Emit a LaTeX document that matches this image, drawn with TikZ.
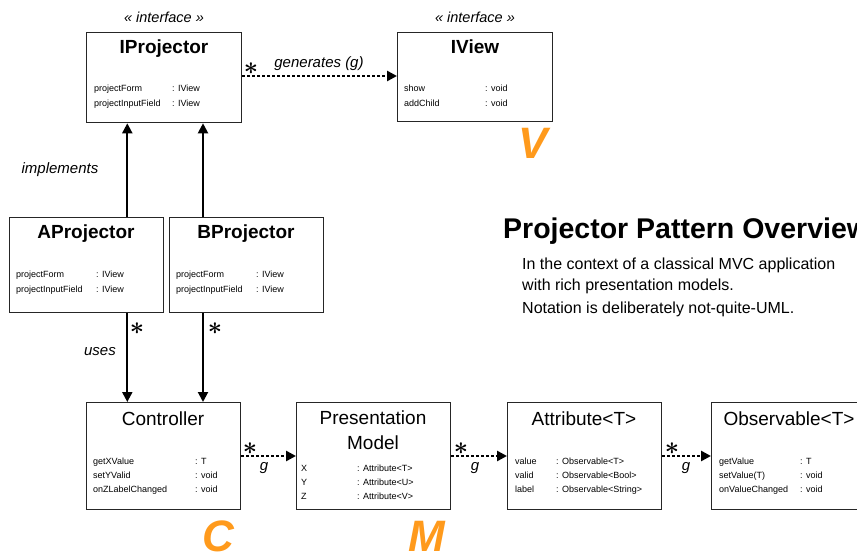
\documentclass[tikz,border=0pt]{standalone}
\usepackage{fontspec}
\setmainfont{Liberation Sans}
\usetikzlibrary{arrows.meta}
\definecolor{mvcorange}{HTML}{FF9A1C}
\begin{document}
\begin{tikzpicture}[x=1pt,y=-1pt,
  cls/.style={draw=black!85,line width=1.3pt,anchor=north west,inner sep=0pt,minimum width=155pt},
  clsname/.style={font=\fontsize{19}{22}\selectfont,anchor=base,inner sep=0pt},
  stereo/.style={font=\fontsize{14.5}{17}\selectfont\itshape,inner sep=0pt},
  fields/.style={font=\fontsize{9}{14.3}\selectfont,anchor=base west,inner sep=0pt},
  rel/.style={line width=2pt,-{Triangle[length=10pt,width=10pt]}},
  gen/.style={rel,line width=2.5pt,dash pattern=on 2.5pt off 2.5pt},
  mult/.style={font=\fontsize{36}{36}\selectfont\boldmath,inner sep=0pt},
  lbl/.style={font=\fontsize{15}{18}\selectfont\itshape,inner sep=0pt},
  note/.style={font=\fontsize{16}{20}\selectfont,anchor=base west,inner sep=0pt},
  mvc/.style={font=\fontsize{44}{44}\selectfont\bfseries\itshape,text=mvcorange,inner sep=0pt}]
\useasboundingbox (0,0) rectangle (857,553);
\clip (0,0) rectangle (857,553);
% boxes
\node[cls,minimum height=90pt] (iproj) at (86,32) {};
\node[cls,minimum height=89pt] (iview) at (397,32) {};
\node[cls,minimum height=95pt,minimum width=154pt] (aproj) at (9,217) {};
\node[cls,minimum height=95pt,minimum width=154pt] (bproj) at (169,217) {};
\node[cls,minimum height=107pt,minimum width=154pt] (ctrl) at (86,402) {};
\node[cls,minimum height=107pt,minimum width=154pt] (pm) at (296,402) {};
\node[cls,minimum height=107pt,minimum width=154pt] (attr) at (507,402) {};
\node[cls,minimum height=107pt,minimum width=156pt] (obs) at (711,402) {};
% stereotypes
\node[stereo] (iprojStereo) at (164,17) {« interface »};
\node[stereo] (iviewStereo) at (475,17) {« interface »};
% class names
\node[clsname,font=\fontsize{19}{22}\selectfont\bfseries] (iprojName) at (164,54) {IProjector};
\node[clsname,font=\fontsize{19}{22}\selectfont\bfseries] (iviewName) at (475,54) {IView};
\node[clsname,font=\fontsize{19}{22}\selectfont\bfseries] (aprojName) at (86,239) {AProjector};
\node[clsname,font=\fontsize{19}{22}\selectfont\bfseries] (bprojName) at (246,239) {BProjector};
\node[clsname] (ctrlName) at (163,425) {Controller};
\node[clsname] (pmName) at (373,424) {Presentation};
\node[clsname] (pmName2) at (373,449) {Model};
\node[clsname] (attrName) at (584,425) {Attribute<T>};
\node[clsname] (obsName) at (789,425) {Observable<T>};
% fields
\node[fields] (iprojFields) at (94,92) {\begin{tabular}[t]{@{}p{78pt}@{}l@{}}
  projectForm & : IView\\ projectInputField & : IView\end{tabular}};
\node[fields] (iviewFields) at (404,92) {\begin{tabular}[t]{@{}p{81pt}@{}l@{}}
  show & : void\\ addChild & : void\end{tabular}};
\node[fields] (aprojFields) at (16,278) {\begin{tabular}[t]{@{}p{80pt}@{}l@{}}
  projectForm & : IView\\ projectInputField & : IView\end{tabular}};
\node[fields] (bprojFields) at (176,278) {\begin{tabular}[t]{@{}p{80pt}@{}l@{}}
  projectForm & : IView\\ projectInputField & : IView\end{tabular}};
\node[fields] (ctrlFields) at (93,464) {\begin{tabular}[t]{@{}p{102pt}@{}l@{}}
  getXValue & : T\\ setYValid & : void\\ onZLabelChanged & : void\end{tabular}};
\node[fields] (pmFields) at (301,471) {\begin{tabular}[t]{@{}p{56pt}@{}l@{}}
  X & : Attribute<T>\\ Y & : Attribute<U>\\ Z & : Attribute<V>\end{tabular}};
\node[fields] (attrFields) at (515,464) {\begin{tabular}[t]{@{}p{41pt}@{}l@{}}
  value & : Observable<T>\\ valid & : Observable<Bool>\\ label & : Observable<String>\end{tabular}};
\node[fields] (obsFields) at (719,464) {\begin{tabular}[t]{@{}p{81pt}@{}l@{}}
  getValue & : T\\ setValue(T) & : void\\ onValueChanged & : void\end{tabular}};
% implements
\draw[rel] ([xshift=-37]aproj.north east) -- ([xshift=-37]aproj.north east |- iproj.south);
\draw[rel] ([xshift=34]bproj.north west) -- ([xshift=34]bproj.north west |- iproj.south);
\node[lbl] (implLbl) at (60,170) {implements};
% uses
\draw[rel] ([xshift=-37]aproj.south east) -- ([xshift=-37]aproj.south east |- ctrl.north);
\draw[rel] ([xshift=34]bproj.south west) -- ([xshift=34]bproj.south west |- ctrl.north);
\node[mult] (usesStarA) at (137,329) {$\ast$};
\node[mult] (usesStarB) at (215,329) {$\ast$};
\node[lbl] (usesLbl) at (100,352) {uses};
% generates
\draw[gen] (iproj.east |- 0,76) -- (iview.west |- 0,76);
\node[mult] (genStar) at (251,69) {$\ast$};
\node[lbl] (genLbl) at (319,64) {generates (g)};
\draw[gen] (ctrl.east |- 0,456) -- (pm.west |- 0,456);
\node[mult] (ctrlStar) at (250,449) {$\ast$};
\node[lbl] (ctrlG) at (264,468) {g};
\draw[gen] (pm.east |- 0,456) -- (attr.west |- 0,456);
\node[mult] (pmStar) at (461,449) {$\ast$};
\node[lbl] (pmG) at (475,468) {g};
\draw[gen] (attr.east |- 0,456) -- (obs.west |- 0,456);
\node[mult] (attrStar) at (672,449) {$\ast$};
\node[lbl] (attrG) at (686,468) {g};
% title and notes
\node[font=\fontsize{28.5}{30}\selectfont\bfseries,anchor=base west,inner sep=0pt] (title) at (503,239) {Projector Pattern Overview};
\node[note] (notes) at (522,270) {In the context of a classical MVC application};
\node[note] (notes1b) at (522,291) {with rich presentation models.};
\node[note] (notes2) at (522,314) {Notation is deliberately not-quite-UML.};
% M V C
\node[mvc] (mvcV) at (533,143) {V};
\node[mvc] (mvcC) at (218,536) {C};
\node[mvc] (mvcM) at (427,536) {M};
\end{tikzpicture}
\end{document}
